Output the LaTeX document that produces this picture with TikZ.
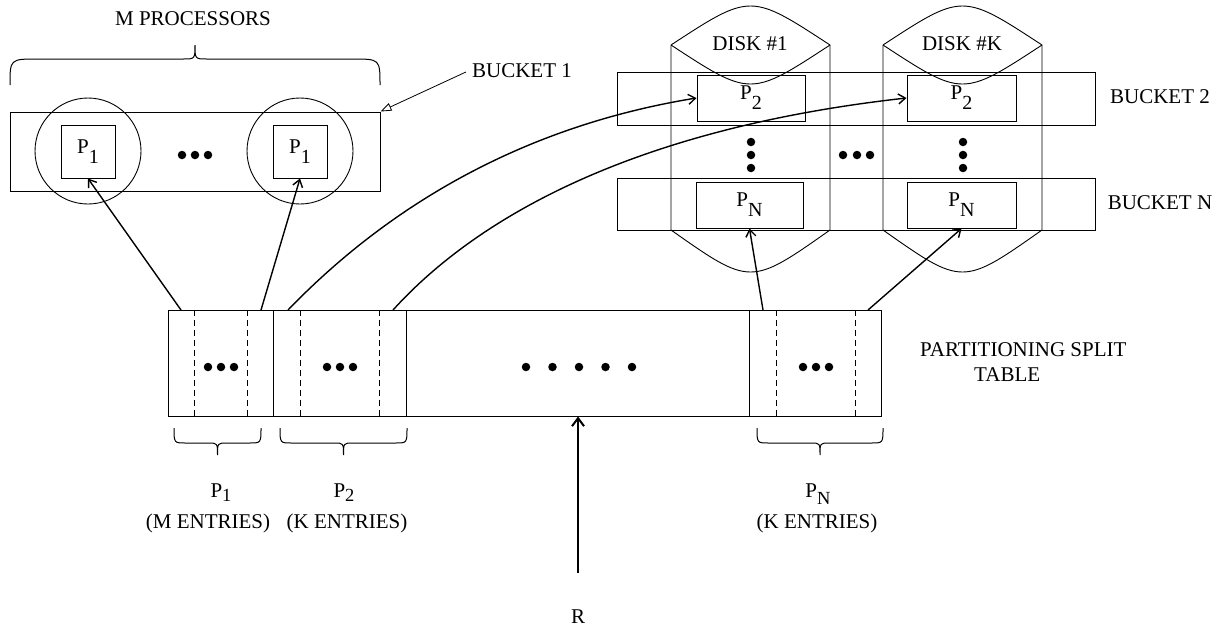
\documentclass[tikz,border=0pt]{standalone}
\usepackage{fontspec}
\setmainfont{Liberation Serif}
\usetikzlibrary{arrows.meta,calc}
\newcommand{\bsub}[1]{\raisebox{-10pt}{\fontsize{20}{20}\selectfont #1}}
\newcommand{\lsub}[2]{\raisebox{-#2}{\fontsize{18.5}{18.5}\selectfont #1}}
\begin{document}
\begin{tikzpicture}[x=1pt,y=-1pt,
  txt/.style={font=\fontsize{21}{25.5}\selectfont, inner sep=0pt},
  box/.style={draw, line width=1pt, inner sep=0pt, font=\fontsize{21}{25.5}\selectfont},
  thin/.style={line width=0.9pt},
  dashln/.style={line width=0.8pt, dash pattern=on 6pt off 4pt},
  conn/.style={line width=1.4pt, -{Straight Barb[length=7pt,width=10pt,line width=1.4pt]}},
  pointer/.style={line width=0.8pt, -{Triangle[open,length=11pt,width=8pt,line width=0.8pt]}},
  bigarrow/.style={line width=2pt, -{Straight Barb[length=8pt,width=12pt,line width=2pt]}},
  dot/.style={fill=black, circle, inner sep=0pt, minimum size=8.5pt},
  brace/.style={line width=1pt}]
\useasboundingbox (0,0) rectangle (1228,630);

% ---------- Bucket 1 ----------
\node[txt] (mproc) at (193,18.5) {M PROCESSORS};
\draw[brace] (10,85) .. controls (10,59) .. (38,59) -- (183,59)
  .. controls (195,59) .. (195,45) .. controls (195,59) .. (207,59)
  -- (352,59) .. controls (380,59) .. (380,85);
\node[box, minimum width=370pt, minimum height=79pt] (b1) at (195,151.5) {};
\node[draw, thin, circle, minimum size=106pt, inner sep=0pt] (c1) at (88,151) {};
\node[draw, thin, circle, minimum size=106pt, inner sep=0pt] (c2) at (300,151) {};
\node[box, minimum width=54pt, minimum height=53pt] (p1a) at (88,151.5) {P\bsub{1}};
\node[box, minimum width=54pt, minimum height=53pt] (p1b) at (300,151.5) {P\bsub{1}};
\node[dot] (d1) at (182,155) {};
\node[dot] (d2) at (195,155) {};
\node[dot] (d3) at (208,155) {};
\node[txt] (lb1) at (522,71) {BUCKET 1};
\draw[pointer] (lb1.west) ++(-6,1) coordinate (lb1p) (lb1p) -- (b1.north east);

% ---------- Disks ----------
\foreach \xl/\xr/\nm in {671/830/dka, 883/1042/dkb}{
  \pgfmathsetmacro{\xc}{(\xl+\xr)/2}
  \draw[thin] (\xl,45) .. controls (\xc,-7) .. (\xr,45);
  \draw[thin] (\xl,45) .. controls (\xc,97) .. (\xr,45);
  \draw[thin] (\xl,45) -- (\xl,230) .. controls (\xc,286) .. (\xr,230) -- (\xr,45);
}
\node[txt] (dlab1) at (750,44) {DISK \#1};
\node[txt] (dlabk) at (962,44) {DISK \#K};

\node[box, minimum width=478pt, minimum height=53pt] (b2) at (856,98.5) {};
\node[box, minimum width=478pt, minimum height=52pt] (bn) at (856,204) {};
\node[box, minimum width=108pt, minimum height=46pt] (p2a) at (751,98) {P\bsub{2}};
\node[box, minimum width=109pt, minimum height=46pt] (p2b) at (961.5,98) {P\bsub{2}};
\node[box, minimum width=107pt, minimum height=46pt] (pna) at (749.5,205) {P\bsub{N}};
\node[box, minimum width=109pt, minimum height=46pt] (pnb) at (961.5,205) {P\bsub{N}};
\foreach \y [count=\i] in {142,155,168}{
  \node[dot] (va\i) at (751,\y) {};
  \node[dot] (vb\i) at (963,\y) {};
}
\foreach \x [count=\i] in {843,857,870}{
  \node[dot] (hd\i) at (\x,155) {};
}
\node[txt] (lb2) at (1160,97) {BUCKET 2};
\node[txt] (lbn) at (1160,203) {BUCKET N};

% ---------- Table ----------
\node[box, minimum width=713pt, minimum height=106pt] (tab) at (524.5,363) {};
\foreach \x in {273,406,749}{
  \draw[thin] (\x,310) -- (\x,416);
}
\foreach \x in {194,247,300,379,776,855}{
  \draw[dashln] (\x,310) -- (\x,416);
}
\foreach \x [count=\i] in {208,221,234}{ \node[dot] (ta\i) at (\x,367) {}; }
\foreach \x [count=\i] in {327,340,353}{ \node[dot] (tb\i) at (\x,367) {}; }
\foreach \x [count=\i] in {526,552.5,579,605.5,632}{ \node[dot] (tm\i) at (\x,367) {}; }
\foreach \x [count=\i] in {803,816,829}{ \node[dot] (tn\i) at (\x,367) {}; }
\node[txt, align=left, anchor=west] (ptab) at (920,362) {PARTITIONING SPLIT\\\hspace*{54pt}TABLE};

% ---------- Connectors ----------
\coordinate (s1) at (181,310);
\coordinate (s2) at (261,310);
\coordinate (s3) at (288,310);
\coordinate (s4) at (393,310);
\coordinate (s5) at (763,310);
\coordinate (s6) at (868,310);
\draw[conn] (s1) -- (p1a.south);
\draw[conn] (s2) -- (p1b.south);
\draw[conn] (s3) .. controls (370,225) and (500,130) .. (p2a.west);
\draw[conn] (s4) .. controls (470,225) and (620,130) .. (p2b.west);
\draw[conn] (s5) -- (pna.south);
\draw[conn] (s6) -- (pnb.south);

% ---------- Bottom braces ----------
\draw[brace] (174,428) .. controls (174,443) .. (186,443) -- (208,443)
  .. controls (217.5,443) .. (217.5,455) .. controls (217.5,443) .. (227,443)
  -- (249,443) .. controls (261,443) .. (261,428);
\draw[brace] (280,428) .. controls (280,443) .. (292,443) -- (334,443)
  .. controls (343.5,443) .. (343.5,455) .. controls (343.5,443) .. (353,443)
  -- (395,443) .. controls (407,443) .. (407,428);
\draw[brace] (757,428) .. controls (757,443) .. (769,443) -- (810.5,443)
  .. controls (820,443) .. (820,455) .. controls (820,443) .. (829.5,443)
  -- (871,443) .. controls (883,443) .. (883,428);
\node[txt] (lp1) at (221,493) {P\lsub{1}{4pt}};
\node[txt] (lp2) at (344,493) {P\lsub{2}{4pt}};
\node[txt] (lpn) at (818,494) {P\lsub{N}{7pt}};
\node[txt] (lm) at (208,523) {(M ENTRIES)};
\node[txt] (lk) at (347,523) {(K ENTRIES)};
\node[txt] (lkn) at (817,523) {(K ENTRIES)};

% ---------- R ----------
\node[txt] (rlab) at (578,617) {R};
\coordinate (rstart) at (578,573);
\draw[bigarrow] (rstart) -- (tab.south -| rstart);
\end{tikzpicture}
\end{document}
